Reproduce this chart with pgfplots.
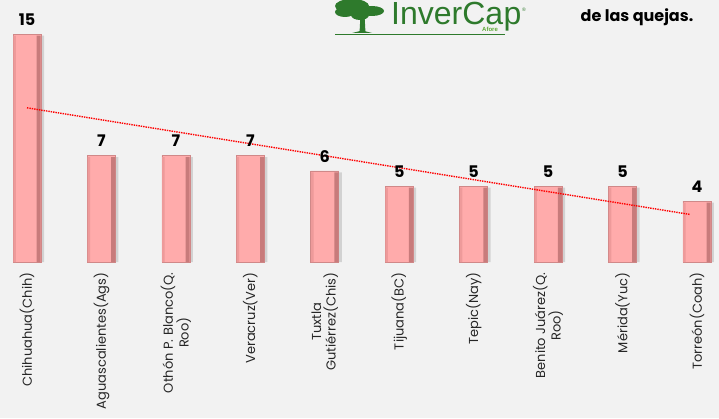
\documentclass[border=0pt]{standalone}
\usepackage{pgfplots}
\pgfplotsset{compat=1.18}
\usepackage{fontspec}
\setmainfont{Poppins}
\newfontfamily\logofont{Liberation Sans}
\definecolor{bg}{HTML}{F2F2F2}
\definecolor{barmid}{HTML}{FFABAB}
\definecolor{barleft}{HTML}{EE9A9A}
\definecolor{barright}{HTML}{BB7070}
\definecolor{baredge}{HTML}{D08888}
\definecolor{logogreen}{HTML}{2E7A2C}
\definecolor{aforegreen}{HTML}{5CAA34}
\begin{document}
\begin{tikzpicture}[x=1pt,y=1pt]
\useasboundingbox (0,-156) rectangle (719,262);
\fill[bg] (0,-156) rectangle (719,262);
\begin{axis}[
  at={(0,0)}, anchor=south west,
  scale only axis, width=719pt, height=262pt,
  xmin=-0.363, xmax=9.296, ymin=0, ymax=17.24,
  clip=false,
  axis line style={draw=none},
  major tick length=0pt,
  ytick=\empty,
  xtick={0,...,9},
  /pgf/number format/assume math mode=true,
  xticklabels={Chihuahua(Chih),Aguascalientes(Ags),{Othón P. Blanco(Q.\\Roo)},Veracruz(Ver),{Tuxtla\\Gutiérrez(Chis)},Tijuana(BC),Tepic(Nay),{Benito Juárez(Q.\\Roo)},Mérida(Yuc),Torreón(Coah)},
  xticklabel style={rotate=90, anchor=east, align=center, font=\fontsize{13}{14.5}\selectfont, text=black!85},
  xticklabel shift=7pt,
]
% shadow
\addplot[ybar, bar width=28pt, bar shift=3pt, fill=black, fill opacity=0.13, draw=none]
  coordinates {(0,14.9) (1,6.9) (2,6.9) (3,6.9) (4,5.9) (5,4.9) (6,4.9) (7,4.9) (8,4.9) (9,3.9)};
% main bar
\addplot[ybar, bar width=28pt, bar shift=0pt, fill=barmid, draw=baredge, line width=0.6pt,
  nodes near coords, every node near coord/.append style={font=\fontsize{16}{18}\selectfont\bfseries, text=black, yshift=5pt}]
  coordinates {(0,15) (1,7) (2,7) (3,7) (4,6) (5,5) (6,5) (7,5) (8,5) (9,4)};
% right dark strip
\addplot[ybar, bar width=4pt, bar shift=11.7pt, fill=barright, fill opacity=0.8, draw=none]
  coordinates {(0,14.9) (1,6.9) (2,6.9) (3,6.9) (4,5.9) (5,4.9) (6,4.9) (7,4.9) (8,4.9) (9,3.9)};
% left strip
\addplot[ybar, bar width=2.5pt, bar shift=-12.5pt, fill=barleft, draw=none]
  coordinates {(0,14.9) (1,6.9) (2,6.9) (3,6.9) (4,5.9) (5,4.9) (6,4.9) (7,4.9) (8,4.9) (9,3.9)};
% linear trend
\addplot[red, densely dotted, line width=1.4pt] coordinates {(0,10.145) (8.9,3.134)};
\end{axis}
% logo and title fragment
\begin{scope}[logogreen]
\fill (352,256) ellipse (17 and 7);
\fill (345,250) ellipse (10 and 5);
\fill (372,251) ellipse (12 and 5);
\fill (360,247) ellipse (9 and 5);
\fill (360.5,247) -- (364.5,247) -- (365.5,229) -- (359.5,229) -- cycle;
\fill (352,229) -- (372,229) -- (364,231) -- (360,231) -- cycle;
\draw[line width=0.9pt] (335,228) -- (505,228);
\end{scope}
\node[logogreen, anchor=base west, inner sep=0] (ic) at (391,237) {\logofont\fontsize{32}{32}\selectfont InverCa};
\node[logogreen, anchor=base west, inner sep=0] at (ic.base east) {\logofont\fontsize{32}{32}\selectfont p};
\node[logogreen, anchor=center, inner sep=0] at (524,252) {\logofont\fontsize{5}{6}\selectfont ®};
\node[aforegreen, anchor=base, inner sep=0] at (490,230) {\logofont\fontsize{6}{6}\selectfont\bfseries Afore};
\node[anchor=center, inner sep=0] at (637,245) {\fontsize{16}{18}\selectfont\bfseries de las quejas.};
\end{tikzpicture}
\end{document}
